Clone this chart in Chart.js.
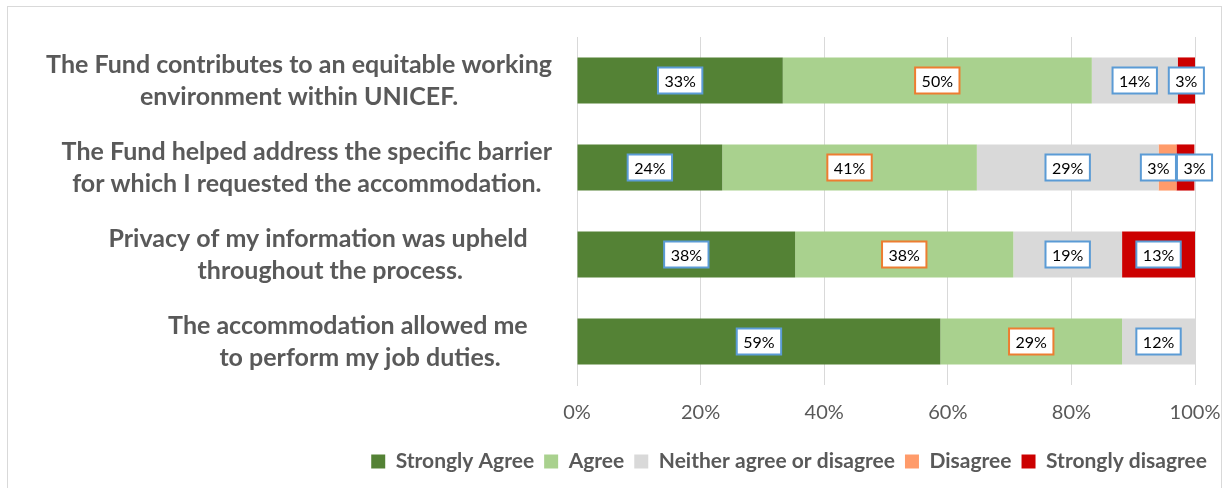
<!DOCTYPE html>
<html>
<head>
<meta charset="utf-8">
<script src="https://cdn.jsdelivr.net/npm/chart.js@4/dist/chart.umd.min.js"></script>
<style>
  html, body { margin: 0; padding: 0; background: #fff; }
  #frame { position: absolute; left: 7px; top: 6px; width: 1213px; height: 490px; border: 1px solid #d9d9d9; }
  #chart { position: absolute; left: 0; top: 0; }
</style>
</head>
<body>
<div id="frame"></div>
<canvas id="chart" width="1228" height="488"></canvas>
<script>
// Pertanyaan (kategori), tiap baris satu label dua baris
const categories = [
  ['The Fund contributes to an equitable working', 'environment within UNICEF.'],
  ['The Fund helped address the specific barrier', 'for which I requested the accommodation.'],
  ['Privacy of my information was upheld    ', 'throughout the process.'],
  ['The accommodation allowed me    ', 'to perform my job duties.']
];
const seriesNames = ['Strongly Agree', 'Agree', 'Neither agree or disagree', 'Disagree', 'Strongly disagree'];

// Persentase tiap jawaban (dibaca dari panjang batang)
const stronglyAgree = [33.3, 23.5, 35.3, 58.8];
const agree = [50.0, 41.2, 35.3, 29.4];
const neither = [13.9, 29.4, 17.6, 11.8];
const disagree = [0, 2.9, 0, 0];
const stronglyDisagree = [2.8, 2.9, 11.8, 0];

// Teks label data seperti tertulis di gambar
const stronglyAgreeLabels = ['33%', '24%', '38%', '59%'];
const agreeLabels = ['50%', '41%', '38%', '29%'];
const neitherLabels = ['14%', '29%', '19%', '12%'];
const disagreeLabels = ['', '3%', '', ''];
const stronglyDisagreeLabels = ['3%', '3%', '13%', ''];

const xTicks = [0, 20, 40, 60, 80, 100];

const FONT = 'Lato, "Open Sans", sans-serif';
const GREY_TEXT = '#595959';

// Label kotak putih dengan garis tepi berwarna
const boxLabels = {
  id: 'boxLabels',
  afterDatasetsDraw(chart) {
    const ctx = chart.ctx;
    ctx.save();
    ctx.font = '16px ' + FONT;
    ctx.textAlign = 'center';
    ctx.textBaseline = 'middle';
    const h = 26;
    for (let i = 0; i < categories.length; i++) {
      const boxes = [];
      chart.data.datasets.forEach((ds, d) => {
        const text = ds.boxText[i];
        if (!text) return;
        const bar = chart.getDatasetMeta(d).data[i];
        const cx = (bar.x + bar.base) / 2;
        const w = ctx.measureText(text).width + 13;
        let left = cx - w / 2;
        const prev = boxes[boxes.length - 1];
        if (prev && left < prev.left + prev.w + 1) {
          const overlap = prev.left + prev.w + 1 - left;
          prev.left -= overlap / 2;
          left += overlap / 2;
        }
        boxes.push({ left, w, y: bar.y, text, color: ds.boxBorder });
      });
      boxes.forEach(b => {
        ctx.fillStyle = '#fff';
        ctx.fillRect(b.left, b.y - h / 2, b.w, h);
        ctx.lineWidth = 2;
        ctx.strokeStyle = b.color;
        ctx.strokeRect(b.left, b.y - h / 2, b.w, h);
        ctx.fillStyle = '#000';
        ctx.fillText(b.text, b.left + b.w / 2, b.y + 1);
      });
    }
    ctx.restore();
  }
};

// Label kategori: tiap blok rata kanan, baris di tengah blok
const categoryLabels = {
  id: 'categoryLabels',
  afterDraw(chart) {
    const ctx = chart.ctx;
    const yScale = chart.scales.y;
    const right = yScale.right - 25;
    const lineHeight = 32;
    ctx.save();
    ctx.font = 'bold 25px ' + FONT;
    ctx.fillStyle = GREY_TEXT;
    ctx.textAlign = 'center';
    ctx.textBaseline = 'middle';
    categories.forEach((lines, i) => {
      const y = yScale.getPixelForTick(i);
      const widest = Math.max(...lines.map(l => ctx.measureText(l).width));
      const cx = right - widest / 2;
      lines.forEach((line, k) => {
        const ly = y + (k - (lines.length - 1) / 2) * lineHeight;
        const shift = (ctx.measureText(line).width - ctx.measureText(line.trim()).width) / 2;
        ctx.fillText(line.trim(), cx - shift, ly);
      });
    });
    ctx.restore();
  }
};

const ctx = document.getElementById('chart').getContext('2d');
new Chart(ctx, {
  type: 'bar',
  data: {
    labels: categories,
    datasets: [
      { label: seriesNames[0], data: stronglyAgree, backgroundColor: '#548235', boxText: stronglyAgreeLabels, boxBorder: '#5B9BD5' },
      { label: seriesNames[1], data: agree, backgroundColor: '#A9D18E', boxText: agreeLabels, boxBorder: '#ED7D31' },
      { label: seriesNames[2], data: neither, backgroundColor: '#D9D9D9', boxText: neitherLabels, boxBorder: '#5B9BD5' },
      { label: seriesNames[3], data: disagree, backgroundColor: '#FF9B6A', boxText: disagreeLabels, boxBorder: '#5B9BD5' },
      { label: seriesNames[4], data: stronglyDisagree, backgroundColor: '#CC0000', boxText: stronglyDisagreeLabels, boxBorder: '#5B9BD5' }
    ]
  },
  options: {
    indexAxis: 'y',
    responsive: false,
    animation: false,
    datasets: { bar: { categoryPercentage: 1, barPercentage: 0.53 } },
    layout: { padding: { top: 37, right: 11, left: 0, bottom: 6 } },
    scales: {
      x: {
        stacked: true,
        min: 0,
        max: 100,
        afterBuildTicks(scale) { scale.ticks = xTicks.map(v => ({ value: v })); },
        ticks: { callback: v => v + '%', color: GREY_TEXT, font: { size: 20, family: FONT }, padding: 16 },
        grid: { color: '#d9d9d9', drawTicks: false },
        border: { display: false },
        afterFit(scale) { scale.paddingRight = 33; }
      },
      y: {
        stacked: true,
        ticks: { display: false },
        grid: { display: false, drawTicks: false },
        border: { color: '#d9d9d9' },
        afterFit(scale) { scale.width = 577; }
      }
    },
    plugins: {
      legend: {
        position: 'bottom',
        align: 'end',
        labels: { boxWidth: 14, boxHeight: 14, color: GREY_TEXT, font: { size: 21, weight: 'bold', family: FONT }, padding: 10 }
      },
      tooltip: { enabled: false }
    }
  },
  plugins: [boxLabels, categoryLabels]
});
</script>
</body>
</html>
